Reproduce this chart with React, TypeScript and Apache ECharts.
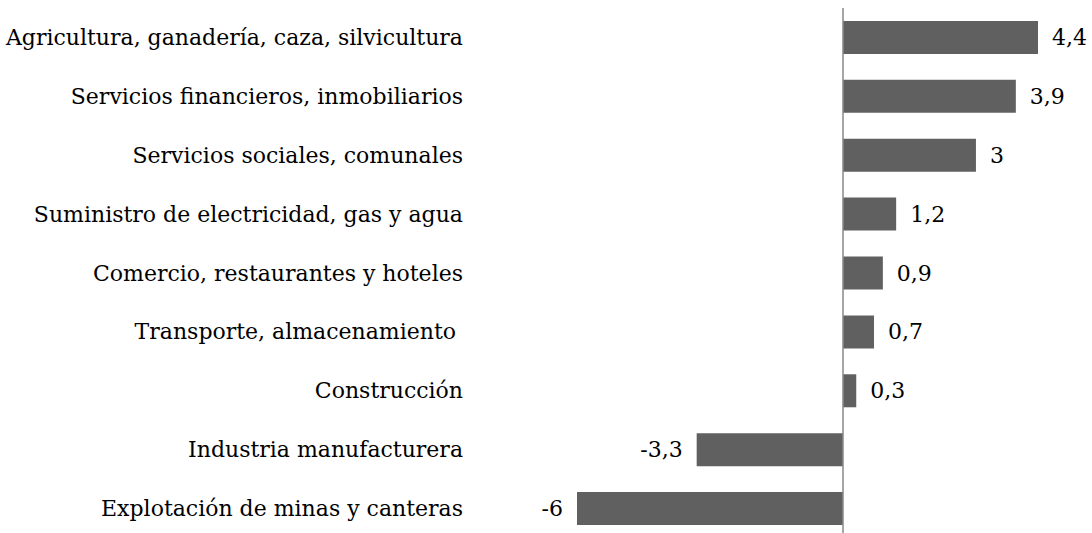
import React, { useEffect, useRef } from "react";
import * as echarts from "echarts";

const categories = [
  "Agricultura, ganadería, caza, silvicultura",
  "Servicios financieros, inmobiliarios",
  "Servicios sociales, comunales",
  "Suministro de electricidad, gas y agua",
  "Comercio, restaurantes y hoteles",
  "Transporte, almacenamiento ",
  "Construcción",
  "Industria manufacturera",
  "Explotación de minas y canteras",
];
const values = [4.4, 3.9, 3, 1.2, 0.9, 0.7, 0.3, -3.3, -6];

const FONT = "'DejaVu Serif', serif";

export default function App() {
  const ref = useRef<HTMLDivElement>(null);
  useEffect(() => {
    if (!ref.current) return;
    const chart = echarts.init(ref.current, null, { renderer: "svg" });
    const fmt = (v: number) => String(v).replace(".", ",");
    chart.setOption({
      animation: false,
      grid: { left: 577, width: 461, top: 8, height: 530, outerBoundsMode: "none" },
      xAxis: {
        type: "value",
        min: -6,
        max: 4.4,
        show: false,
      },
      yAxis: {
        type: "category",
        data: categories,
        inverse: true,
        axisLine: { show: false },
        axisTick: { show: false },
        axisLabel: {
          margin: 114,
          color: "#000",
          fontFamily: FONT,
          fontSize: 22,
          padding: [4, 0, 0, 0],
        },
      },
      series: [
        {
          type: "bar",
          barWidth: 33,
          data: values.map((v) => ({
            value: v,
            label: {
              show: true,
              position: v >= 0 ? "right" : "left",
              distance: 14,
              formatter: () => fmt(v),
              color: "#000",
              fontFamily: FONT,
              fontSize: 22,
              padding: [4, 0, 0, 0],
            },
          })),
          itemStyle: { color: "#606060" },
          markLine: {
            silent: true,
            symbol: "none",
            label: { show: false },
            lineStyle: { color: "#888888", width: 1.5, type: "solid" },
            data: [{ xAxis: 0 }],
          },
        },
      ],
    });
    return () => chart.dispose();
  }, []);
  return (
    <div
      ref={ref}
      style={{ position: "absolute", left: 0, top: 0, width: 1092, height: 533, background: "#fff" }}
    />
  );
}
